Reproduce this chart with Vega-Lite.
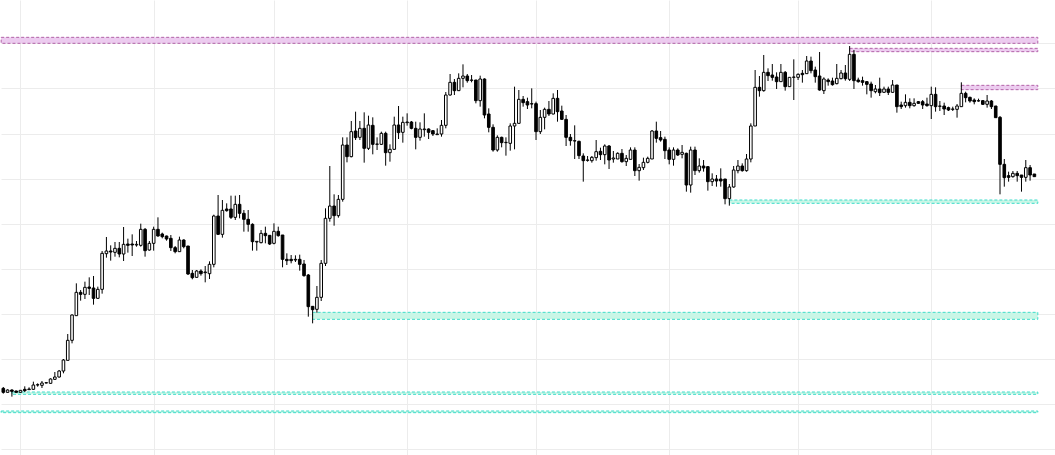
{
"$schema": "https://vega.github.io/schema/vega-lite/v6.json",
"width": 1055, "height": 455,
"autosize": {"type": "fit", "contains": "padding"},
"padding": 0,
"background": "white",
"config": {"view": {"stroke": null}, "axis": {"labels": false, "ticks": false, "domain": false, "grid": true, "gridColor": "#ececec", "gridWidth": 1}},
"datasets": {
"zones": [
{"kind":"supply","x0":-0.5,"x1":240.8,"p0":1410,"p1":1428},
{"kind":"supply","x0":197,"x1":240.8,"p0":1385,"p1":1395},
{"kind":"supply","x0":223,"x1":240.8,"p0":1271,"p1":1284},
{"kind":"demand","x0":169,"x1":240.8,"p0":930,"p1":940},
{"kind":"demand","x0":72,"x1":240.8,"p0":582,"p1":603},
{"kind":"demand","x0":2,"x1":240.8,"p0":357,"p1":364},
{"kind":"demand","x0":-0.5,"x1":240.8,"p0":302,"p1":307}
],
"candles": [
{"i":0,"o":375,"h":379,"l":359,"c":363},
{"i":1,"o":363,"h":372,"l":362,"c":370},
{"i":2,"o":370,"h":372,"l":350,"c":366},
{"i":3,"o":367,"h":368,"l":362,"c":363},
{"i":4,"o":363,"h":370,"l":362,"c":369},
{"i":5,"o":372,"h":381,"l":364,"c":368},
{"i":6,"o":371,"h":378,"l":370,"c":373},
{"i":7,"o":372,"h":395,"l":370,"c":385},
{"i":8,"o":385,"h":390,"l":380,"c":386},
{"i":9,"o":384,"h":397,"l":376,"c":391},
{"i":10,"o":391,"h":394,"l":390,"c":392},
{"i":11,"o":390,"h":405,"l":389,"c":403},
{"i":12,"o":402,"h":424,"l":400,"c":409},
{"i":13,"o":409,"h":430,"l":407,"c":427},
{"i":14,"o":427,"h":463,"l":420,"c":460},
{"i":15,"o":459,"h":538,"l":459,"c":519},
{"i":16,"o":519,"h":597,"l":510,"c":595},
{"i":17,"o":593,"h":690,"l":593,"c":663},
{"i":18,"o":663,"h":670,"l":638,"c":657},
{"i":19,"o":657,"h":695,"l":643,"c":678},
{"i":20,"o":679,"h":708,"l":655,"c":675},
{"i":21,"o":676,"h":712,"l":626,"c":645},
{"i":22,"o":645,"h":680,"l":644,"c":672},
{"i":23,"o":672,"h":787,"l":659,"c":780},
{"i":24,"o":779,"h":829,"l":767,"c":787},
{"i":25,"o":787,"h":804,"l":758,"c":784},
{"i":26,"o":783,"h":814,"l":770,"c":795},
{"i":27,"o":795,"h":814,"l":768,"c":778},
{"i":28,"o":778,"h":859,"l":757,"c":807},
{"i":29,"o":808,"h":824,"l":782,"c":804},
{"i":30,"o":808,"h":837,"l":772,"c":805},
{"i":31,"o":805,"h":817,"l":800,"c":807},
{"i":32,"o":804,"h":869,"l":800,"c":852},
{"i":33,"o":852,"h":856,"l":770,"c":788},
{"i":34,"o":790,"h":817,"l":788,"c":810},
{"i":35,"o":810,"h":860,"l":788,"c":852},
{"i":36,"o":852,"h":888,"l":830,"c":832},
{"i":37,"o":838,"h":842,"l":825,"c":830},
{"i":38,"o":832,"h":833,"l":818,"c":823},
{"i":39,"o":825,"h":835,"l":787,"c":797},
{"i":40,"o":797,"h":802,"l":780,"c":785},
{"i":41,"o":785,"h":830,"l":785,"c":820},
{"i":42,"o":820,"h":822,"l":795,"c":800},
{"i":43,"o":802,"h":802,"l":715,"c":718},
{"i":44,"o":720,"h":730,"l":702,"c":707},
{"i":45,"o":708,"h":730,"l":707,"c":727},
{"i":46,"o":727,"h":732,"l":713,"c":719},
{"i":47,"o":722,"h":742,"l":693,"c":724},
{"i":48,"o":719,"h":756,"l":703,"c":747},
{"i":49,"o":747,"h":896,"l":738,"c":892},
{"i":50,"o":892,"h":955,"l":835,"c":837},
{"i":51,"o":837,"h":940,"l":827,"c":909},
{"i":52,"o":913,"h":930,"l":905,"c":908},
{"i":53,"o":913,"h":953,"l":883,"c":888},
{"i":54,"o":888,"h":953,"l":880,"c":927},
{"i":55,"o":927,"h":955,"l":885,"c":900},
{"i":56,"o":900,"h":910,"l":845,"c":882},
{"i":57,"o":882,"h":910,"l":845,"c":867},
{"i":58,"o":867,"h":870,"l":788,"c":815},
{"i":59,"o":814,"h":816,"l":788,"c":816},
{"i":60,"o":812,"h":850,"l":810,"c":840},
{"i":61,"o":840,"h":860,"l":810,"c":833},
{"i":62,"o":834,"h":835,"l":805,"c":808},
{"i":63,"o":810,"h":870,"l":807,"c":846},
{"i":64,"o":846,"h":860,"l":830,"c":833},
{"i":65,"o":835,"h":835,"l":738,"c":762},
{"i":66,"o":762,"h":780,"l":745,"c":758},
{"i":67,"o":762,"h":775,"l":750,"c":758},
{"i":68,"o":760,"h":774,"l":754,"c":762},
{"i":69,"o":762,"h":776,"l":728,"c":747},
{"i":70,"o":748,"h":760,"l":710,"c":713},
{"i":71,"o":715,"h":718,"l":590,"c":620},
{"i":72,"o":621,"h":622,"l":570,"c":611},
{"i":73,"o":612,"h":682,"l":602,"c":648},
{"i":74,"o":648,"h":760,"l":637,"c":750},
{"i":75,"o":750,"h":915,"l":742,"c":885},
{"i":76,"o":885,"h":1042,"l":875,"c":922},
{"i":77,"o":922,"h":957,"l":863,"c":893},
{"i":78,"o":893,"h":955,"l":887,"c":942},
{"i":79,"o":942,"h":1128,"l":935,"c":1105},
{"i":80,"o":1105,"h":1128,"l":1053,"c":1070},
{"i":81,"o":1070,"h":1177,"l":1068,"c":1145},
{"i":82,"o":1147,"h":1205,"l":1120,"c":1127},
{"i":83,"o":1128,"h":1177,"l":1120,"c":1155},
{"i":84,"o":1155,"h":1203,"l":1052,"c":1095},
{"i":85,"o":1095,"h":1193,"l":1090,"c":1165},
{"i":86,"o":1164,"h":1188,"l":1077,"c":1107},
{"i":87,"o":1107,"h":1128,"l":1090,"c":1108},
{"i":88,"o":1107,"h":1145,"l":1105,"c":1140},
{"i":89,"o":1140,"h":1145,"l":1043,"c":1082},
{"i":90,"o":1082,"h":1107,"l":1055,"c":1092},
{"i":91,"o":1092,"h":1190,"l":1090,"c":1165},
{"i":92,"o":1165,"h":1222,"l":1123,"c":1142},
{"i":93,"o":1143,"h":1190,"l":1112,"c":1173},
{"i":94,"o":1172,"h":1200,"l":1163,"c":1174},
{"i":95,"o":1174,"h":1177,"l":1152,"c":1155},
{"i":96,"o":1155,"h":1175,"l":1092,"c":1128},
{"i":97,"o":1128,"h":1173,"l":1118,"c":1153},
{"i":98,"o":1151,"h":1200,"l":1130,"c":1153},
{"i":99,"o":1153,"h":1155,"l":1123,"c":1143},
{"i":100,"o":1148,"h":1150,"l":1132,"c":1138},
{"i":101,"o":1136,"h":1155,"l":1135,"c":1138},
{"i":102,"o":1138,"h":1180,"l":1130,"c":1164},
{"i":103,"o":1164,"h":1264,"l":1155,"c":1255},
{"i":104,"o":1255,"h":1318,"l":1253,"c":1293},
{"i":105,"o":1293,"h":1303,"l":1255,"c":1268},
{"i":106,"o":1268,"h":1320,"l":1268,"c":1305},
{"i":107,"o":1305,"h":1347,"l":1278,"c":1312},
{"i":108,"o":1312,"h":1318,"l":1292,"c":1298},
{"i":109,"o":1299,"h":1315,"l":1293,"c":1300},
{"i":110,"o":1300,"h":1300,"l":1230,"c":1238},
{"i":111,"o":1238,"h":1313,"l":1220,"c":1303},
{"i":112,"o":1303,"h":1305,"l":1185,"c":1195},
{"i":113,"o":1198,"h":1215,"l":1143,"c":1158},
{"i":114,"o":1158,"h":1167,"l":1085,"c":1090},
{"i":115,"o":1090,"h":1134,"l":1085,"c":1128},
{"i":116,"o":1128,"h":1130,"l":1098,"c":1112},
{"i":117,"o":1112,"h":1128,"l":1073,"c":1113},
{"i":118,"o":1110,"h":1170,"l":1088,"c":1162},
{"i":119,"o":1162,"h":1280,"l":1092,"c":1170},
{"i":120,"o":1170,"h":1270,"l":1170,"c":1242},
{"i":121,"o":1242,"h":1252,"l":1220,"c":1232},
{"i":122,"o":1235,"h":1247,"l":1213,"c":1225},
{"i":123,"o":1228,"h":1275,"l":1215,"c":1229},
{"i":124,"o":1229,"h":1235,"l":1120,"c":1145},
{"i":125,"o":1145,"h":1210,"l":1138,"c":1188},
{"i":126,"o":1188,"h":1217,"l":1152,"c":1212},
{"i":127,"o":1212,"h":1237,"l":1192,"c":1198},
{"i":128,"o":1198,"h":1260,"l":1197,"c":1245},
{"i":129,"o":1245,"h":1270,"l":1175,"c":1205},
{"i":130,"o":1207,"h":1223,"l":1180,"c":1182},
{"i":131,"o":1182,"h":1195,"l":1102,"c":1128},
{"i":132,"o":1128,"h":1138,"l":1103,"c":1118},
{"i":133,"o":1117,"h":1164,"l":1063,"c":1118},
{"i":134,"o":1116,"h":1118,"l":1063,"c":1073},
{"i":135,"o":1072,"h":1080,"l":995,"c":1058},
{"i":136,"o":1059,"h":1072,"l":1055,"c":1060},
{"i":137,"o":1058,"h":1072,"l":1052,"c":1068},
{"i":138,"o":1067,"h":1120,"l":1058,"c":1085},
{"i":139,"o":1086,"h":1097,"l":1060,"c":1076},
{"i":140,"o":1076,"h":1107,"l":1047,"c":1102},
{"i":141,"o":1102,"h":1105,"l":1033,"c":1060},
{"i":142,"o":1063,"h":1087,"l":1052,"c":1066},
{"i":143,"o":1063,"h":1083,"l":1063,"c":1080},
{"i":144,"o":1080,"h":1093,"l":1052,"c":1055},
{"i":145,"o":1055,"h":1075,"l":1042,"c":1065},
{"i":146,"o":1062,"h":1098,"l":1062,"c":1090},
{"i":147,"o":1090,"h":1098,"l":1012,"c":1028},
{"i":148,"o":1028,"h":1048,"l":998,"c":1038},
{"i":149,"o":1037,"h":1067,"l":1030,"c":1053},
{"i":150,"o":1053,"h":1070,"l":1050,"c":1065},
{"i":151,"o":1063,"h":1150,"l":1063,"c":1147},
{"i":152,"o":1147,"h":1175,"l":1112,"c":1125},
{"i":153,"o":1127,"h":1147,"l":1115,"c":1120},
{"i":154,"o":1122,"h":1130,"l":1063,"c":1088},
{"i":155,"o":1090,"h":1098,"l":1047,"c":1062},
{"i":156,"o":1062,"h":1098,"l":1043,"c":1090},
{"i":157,"o":1090,"h":1095,"l":1072,"c":1075},
{"i":158,"o":1077,"h":1105,"l":1065,"c":1083},
{"i":159,"o":1080,"h":1082,"l":965,"c":985},
{"i":160,"o":985,"h":1100,"l":962,"c":1090},
{"i":161,"o":1090,"h":1100,"l":1015,"c":1028},
{"i":162,"o":1028,"h":1065,"l":1022,"c":1042},
{"i":163,"o":1042,"h":1060,"l":1025,"c":1036},
{"i":164,"o":1040,"h":1042,"l":968,"c":995},
{"i":165,"o":995,"h":1020,"l":982,"c":1003},
{"i":166,"o":1003,"h":1015,"l":980,"c":997},
{"i":167,"o":1003,"h":1035,"l":980,"c":997},
{"i":168,"o":1003,"h":1003,"l":927,"c":944},
{"i":169,"o":944,"h":988,"l":923,"c":979},
{"i":170,"o":979,"h":1042,"l":977,"c":1030},
{"i":171,"o":1028,"h":1060,"l":1020,"c":1042},
{"i":172,"o":1042,"h":1050,"l":1025,"c":1028},
{"i":173,"o":1028,"h":1078,"l":1025,"c":1063},
{"i":174,"o":1063,"h":1170,"l":1053,"c":1162},
{"i":175,"o":1162,"h":1330,"l":1162,"c":1278},
{"i":176,"o":1278,"h":1312,"l":1250,"c":1268},
{"i":177,"o":1268,"h":1375,"l":1265,"c":1323},
{"i":178,"o":1323,"h":1335,"l":1297,"c":1313},
{"i":179,"o":1315,"h":1348,"l":1298,"c":1308},
{"i":180,"o":1309,"h":1323,"l":1273,"c":1295},
{"i":181,"o":1295,"h":1348,"l":1295,"c":1323},
{"i":182,"o":1323,"h":1327,"l":1268,"c":1280},
{"i":183,"o":1280,"h":1308,"l":1280,"c":1308},
{"i":184,"o":1308,"h":1362,"l":1240,"c":1309},
{"i":185,"o":1308,"h":1320,"l":1300,"c":1317},
{"i":186,"o":1320,"h":1330,"l":1292,"c":1316},
{"i":187,"o":1319,"h":1372,"l":1318,"c":1357},
{"i":188,"o":1357,"h":1370,"l":1320,"c":1328},
{"i":189,"o":1330,"h":1340,"l":1292,"c":1310},
{"i":190,"o":1312,"h":1384,"l":1268,"c":1270},
{"i":191,"o":1268,"h":1308,"l":1258,"c":1303},
{"i":192,"o":1300,"h":1305,"l":1283,"c":1295},
{"i":193,"o":1297,"h":1307,"l":1283,"c":1286},
{"i":194,"o":1289,"h":1348,"l":1287,"c":1305},
{"i":195,"o":1304,"h":1330,"l":1302,"c":1321},
{"i":196,"o":1321,"h":1345,"l":1298,"c":1304},
{"i":197,"o":1302,"h":1402,"l":1297,"c":1377},
{"i":198,"o":1377,"h":1390,"l":1273,"c":1298},
{"i":199,"o":1300,"h":1307,"l":1292,"c":1295},
{"i":200,"o":1298,"h":1310,"l":1283,"c":1293},
{"i":201,"o":1295,"h":1297,"l":1257,"c":1287},
{"i":202,"o":1288,"h":1295,"l":1247,"c":1268},
{"i":203,"o":1265,"h":1285,"l":1260,"c":1273},
{"i":204,"o":1273,"h":1307,"l":1252,"c":1262},
{"i":205,"o":1263,"h":1280,"l":1262,"c":1273},
{"i":206,"o":1273,"h":1280,"l":1255,"c":1263},
{"i":207,"o":1263,"h":1300,"l":1262,"c":1285},
{"i":208,"o":1285,"h":1285,"l":1202,"c":1220},
{"i":209,"o":1225,"h":1235,"l":1213,"c":1220},
{"i":210,"o":1223,"h":1257,"l":1217,"c":1233},
{"i":211,"o":1233,"h":1245,"l":1215,"c":1223},
{"i":212,"o":1223,"h":1245,"l":1220,"c":1230},
{"i":213,"o":1235,"h":1237,"l":1228,"c":1230},
{"i":214,"o":1235,"h":1240,"l":1213,"c":1225},
{"i":215,"o":1228,"h":1247,"l":1220,"c":1223},
{"i":216,"o":1223,"h":1280,"l":1183,"c":1257},
{"i":217,"o":1257,"h":1278,"l":1205,"c":1220},
{"i":218,"o":1221,"h":1237,"l":1207,"c":1222},
{"i":219,"o":1222,"h":1232,"l":1195,"c":1213},
{"i":220,"o":1217,"h":1220,"l":1207,"c":1210},
{"i":221,"o":1212,"h":1220,"l":1207,"c":1213},
{"i":222,"o":1212,"h":1228,"l":1187,"c":1222},
{"i":223,"o":1220,"h":1293,"l":1220,"c":1260},
{"i":224,"o":1260,"h":1265,"l":1233,"c":1247},
{"i":225,"o":1248,"h":1250,"l":1232,"c":1237},
{"i":226,"o":1240,"h":1245,"l":1227,"c":1235},
{"i":227,"o":1237,"h":1244,"l":1235,"c":1238},
{"i":228,"o":1238,"h":1240,"l":1225,"c":1227},
{"i":229,"o":1227,"h":1255,"l":1217,"c":1237},
{"i":230,"o":1237,"h":1240,"l":1213,"c":1220},
{"i":231,"o":1222,"h":1222,"l":1187,"c":1187},
{"i":232,"o":1188,"h":1192,"l":957,"c":1047},
{"i":233,"o":1047,"h":1063,"l":980,"c":1007},
{"i":234,"o":1013,"h":1025,"l":995,"c":1008},
{"i":235,"o":1010,"h":1027,"l":1007,"c":1020},
{"i":236,"o":1020,"h":1027,"l":995,"c":1013},
{"i":237,"o":1015,"h":1015,"l":965,"c":1008},
{"i":238,"o":1008,"h":1060,"l":995,"c":1037},
{"i":239,"o":1037,"h":1045,"l":998,"c":1015},
{"i":240,"o":1018,"h":1018,"l":1010,"c":1010}
]
},
"layer": [
{
"data": {"name": "zones"},
"mark": {"type": "rect", "strokeDash": [3, 2], "strokeWidth": 1},
"encoding": {
"x": {"field": "x0", "type": "quantitative", "scale": {"domain": [-0.535, 244.8], "nice": false, "zero": false, "padding": 0}, "axis": {"values": [4, 35, 63, 94, 124, 155, 185, 216], "title": null}},
"x2": {"field": "x1"},
"y": {"field": "p0", "type": "quantitative", "scale": {"domain": [175, 1540], "nice": false, "zero": false, "padding": 0}, "axis": {"values": [192, 327, 463, 598, 733, 869, 1004, 1139, 1275, 1410], "title": null}},
"y2": {"field": "p1"},
"fill": {"field": "kind", "type": "nominal", "scale": {"domain": ["supply", "demand"], "range": ["#eccbef", "#c9f6e6"]}, "legend": null},
"stroke": {"field": "kind", "type": "nominal", "scale": {"domain": ["supply", "demand"], "range": ["#b262a8", "#3fdccb"]}, "legend": null}
}
},
{
"data": {"name": "candles"},
"mark": {"type": "rule", "color": "black", "strokeWidth": 1},
"encoding": {
"x": {"field": "i", "type": "quantitative", "axis": {"values": [4, 35, 63, 94, 124, 155, 185, 216], "title": null}},
"y": {"field": "l", "type": "quantitative", "axis": {"values": [192, 327, 463, 598, 733, 869, 1004, 1139, 1275, 1410], "title": null}},
"y2": {"field": "h"}
}
},
{
"data": {"name": "candles"},
"mark": {"type": "bar", "size": 2.6, "stroke": "black", "strokeWidth": 1},
"encoding": {
"x": {"field": "i", "type": "quantitative", "axis": {"values": [4, 35, 63, 94, 124, 155, 185, 216], "title": null}},
"y": {"field": "o", "type": "quantitative", "axis": {"values": [192, 327, 463, 598, 733, 869, 1004, 1139, 1275, 1410], "title": null}},
"y2": {"field": "c"},
"fill": {"condition": {"test": "datum.c >= datum.o", "value": "white"}, "value": "black"}
}
}
]
}
